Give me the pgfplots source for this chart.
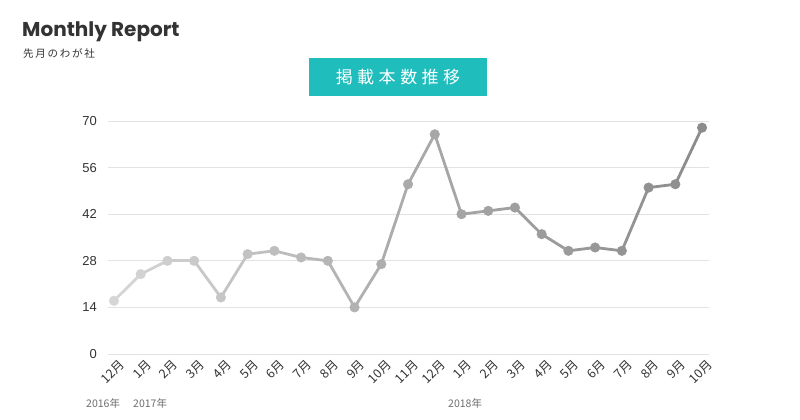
\documentclass[border=0pt]{standalone}
\usepackage{fontspec}
\setmainfont{Liberation Sans}
\newfontfamily\cjk{Noto Sans CJK JP}
\newfontfamily\titlefont{Poppins}
\usepackage{pgfplots}
\usepackage{pgfplotstable}
\pgfplotsset{compat=1.18}
\definecolor{teal1}{RGB}{32,189,189}
\definecolor{txt}{RGB}{51,51,51}
\definecolor{gridc}{RGB}{226,226,226}
\definecolor{yearc}{RGB}{110,110,110}

% monthly counts, Dec 2016 .. Oct 2018
\pgfplotstableread{
x y
0 16
1 24
2 28
3 28
4 17
5 30
6 31
7 29
8 28
9 14
10 27
11 51
12 66
13 42
14 43
15 44
16 36
17 31
18 32
19 31
20 50
21 51
22 68
}\counts

\begin{document}
\begin{tikzpicture}
\path[use as bounding box, fill=white] (0pt,0pt) rectangle (800pt,-420pt);
\node[anchor=base west, inner sep=0pt, text=txt] at (22pt,-37pt)
  {\titlefont\bfseries\fontsize{20}{22}\selectfont Monthly Report};
\node[anchor=base west, inner sep=0pt, text=txt] at (23pt,-57pt)
  {\cjk\fontsize{10.5}{12}\selectfont 先\,月\,の\,わ\,が\,社};
\fill[teal1] (309pt,-58pt) rectangle (487pt,-96pt);
\node[text=white, inner sep=0pt] at (398pt,-77pt)
  {\cjk\fontsize{17}{20}\selectfont 掲\hspace{4.5pt}載\hspace{4.5pt}本\hspace{4.5pt}数\hspace{4.5pt}推\hspace{4.5pt}移};

\begin{axis}[
    at={(108pt,-354pt)}, anchor=south west,
    scale only axis, width=601pt, height=233pt,
    xmin=-0.224, xmax=22.26, ymin=0, ymax=70,
    ytick={0,14,...,70},
    xtick={0,...,22},
    xticklabels={12月,1月,2月,3月,4月,5月,6月,7月,8月,9月,10月,11月,12月,1月,2月,3月,4月,5月,6月,7月,8月,9月,10月},
    axis line style={draw=none},
    major tick length=0pt,
    ymajorgrids, grid style={draw=gridc, line width=0.9pt},
    /pgf/number format/assume math mode=true,
    yticklabel style={anchor=east, inner sep=0pt, xshift=-11pt, text=txt,
      font=\fontsize{13}{15}\selectfont},
    xticklabel style={rotate=45, anchor=north east, inner sep=0pt, yshift=-6pt,
      text=txt, font=\cjk\fontsize{12.5}{14}\selectfont},
    colormap={grays}{rgb255=(214,214,214) rgb255=(170,170,170) rgb255=(140,140,140)},
    clip=false,
  ]
  \addplot[mesh, point meta=x, line width=2.8pt, line cap=round, line join=round]
    table[x=x, y=y] {\counts};
  \addplot[scatter, only marks, mark=*, mark size=4.8pt, point meta=x,
    scatter/use mapped color={draw=mapped color, fill=mapped color}]
    table[x=x, y=y] {\counts};
\end{axis}

\node[anchor=west, inner sep=0pt, text=yearc] at (86pt,-403pt) {\cjk\fontsize{10.5}{12}\selectfont 2016年};
\node[anchor=west, inner sep=0pt, text=yearc] at (133pt,-403pt) {\cjk\fontsize{10.5}{12}\selectfont 2017年};
\node[anchor=west, inner sep=0pt, text=yearc] at (448pt,-403pt) {\cjk\fontsize{10.5}{12}\selectfont 2018年};
\end{tikzpicture}
\end{document}
